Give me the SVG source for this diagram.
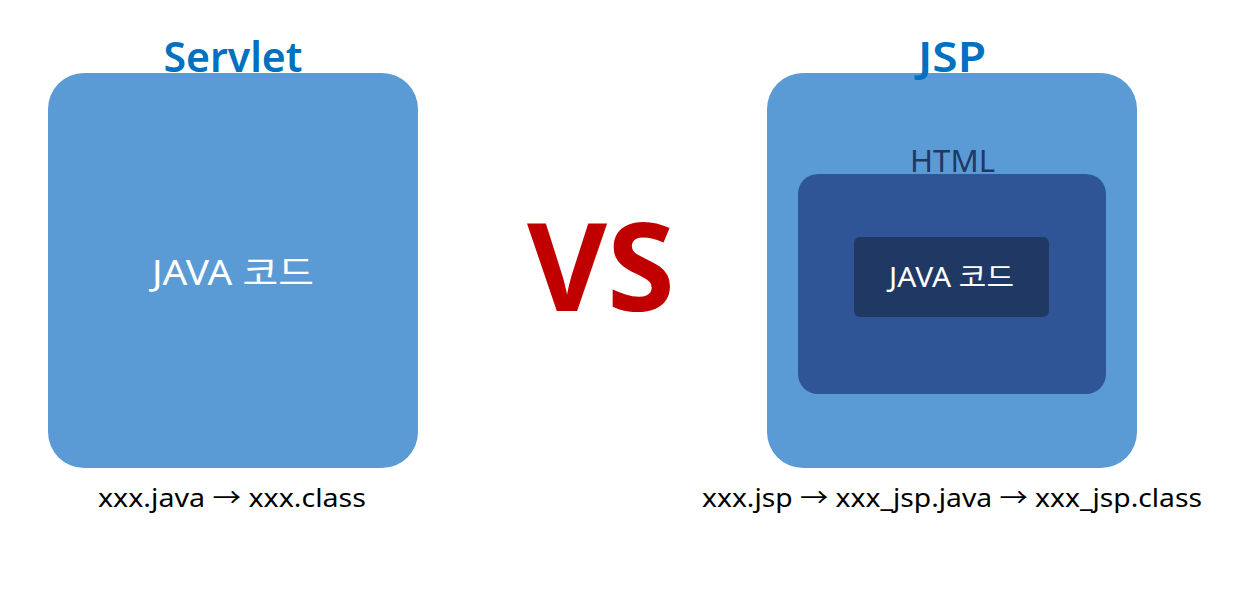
<svg xmlns="http://www.w3.org/2000/svg" width="1247" height="593" viewBox="0 0 1247 593">
<style>
text{font-family:"Noto Sans","Noto Sans CJK KR",sans-serif;}
.title{font-size:41px;font-weight:600;fill:#0070C0;text-anchor:middle;}
.outer{fill:#5B9BD5;}
.white{fill:#FFFFFF;text-anchor:middle;}
.cap{font-size:26px;fill:#000000;}
</style>
<rect width="1247" height="593" fill="#FFFFFF"/>
<g id="servlet">
<rect class="outer" x="48" y="73" width="370" height="395" rx="36"/>
<text class="title" x="233" y="72" textLength="139" lengthAdjust="spacingAndGlyphs">Servlet</text>
<text class="white" x="233" y="285" font-size="34" textLength="162" lengthAdjust="spacingAndGlyphs">JAVA 코드</text>
<text class="cap" x="98" y="507" textLength="268" lengthAdjust="spacingAndGlyphs">xxx.java  → xxx.class</text>
</g>
<g id="vs">
<text x="601" y="311" font-size="122" font-weight="bold" fill="#C00000" text-anchor="middle" textLength="148" lengthAdjust="spacingAndGlyphs">VS</text>
</g>
<g id="jsp">
<rect class="outer" x="767" y="73" width="370" height="395" rx="36"/>
<text class="title" x="952" y="72" textLength="68" lengthAdjust="spacingAndGlyphs">JSP</text>
</g>
<g id="html">
<text x="952.5" y="172" font-size="30" fill="#1F3864" text-anchor="middle" textLength="85" lengthAdjust="spacingAndGlyphs">HTML</text>
<rect x="798" y="174" width="308" height="220" rx="20" fill="#2F5597"/>
</g>
<g id="java">
<rect x="854" y="237" width="195" height="80" rx="6" fill="#203864"/>
<text class="white" x="951.5" y="287" font-size="27" textLength="125" lengthAdjust="spacingAndGlyphs">JAVA 코드</text>
</g>
<g id="jsp-caption">
<text class="cap" x="702" y="507" textLength="500" lengthAdjust="spacingAndGlyphs">xxx.jsp → xxx_jsp.java  → xxx_jsp.class</text>
</g>
<g id="connectors"></g>
</svg>
